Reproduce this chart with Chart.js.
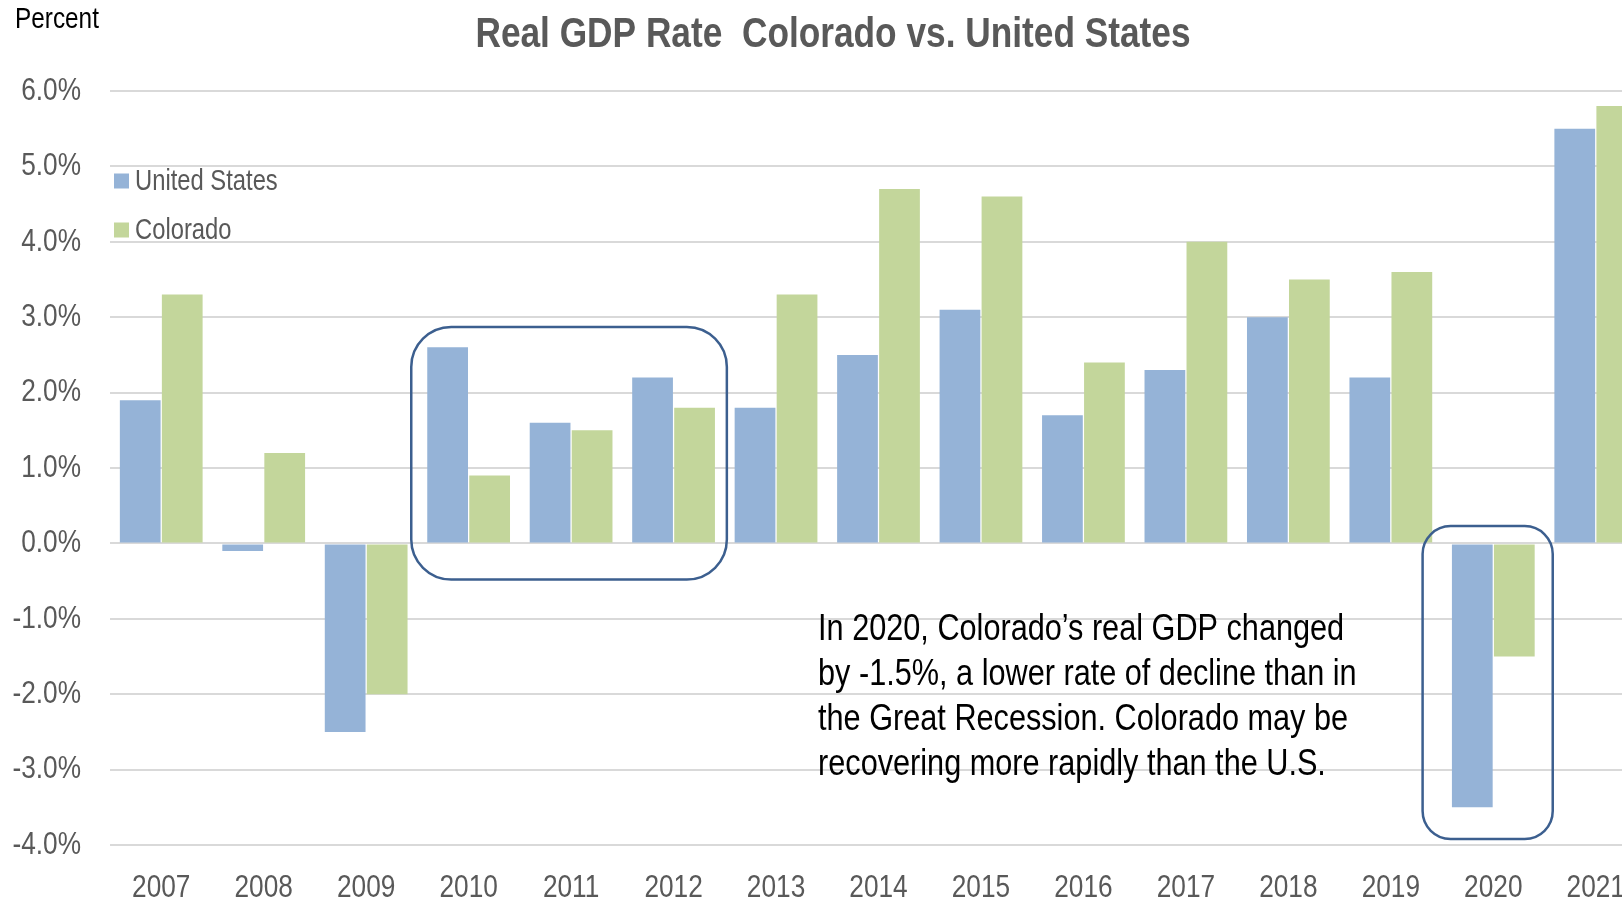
<!DOCTYPE html>
<html>
<head>
<meta charset="utf-8">
<script src="https://cdn.jsdelivr.net/npm/chart.js@4/dist/chart.umd.min.js"></script>
<style>
  html, body { margin: 0; padding: 0; background: #fff; overflow: hidden; }
  #wrap { width: 1660px; height: 899px; }
</style>
</head>
<body>
<div id="wrap"><canvas id="gdp" width="1660" height="899"></canvas></div>
<script>
const years = ["2007", "2008", "2009", "2010", "2011", "2012", "2013", "2014", "2015", "2016", "2017", "2018", "2019", "2020", "2021"];
const usRate = [1.9, -0.1, -2.5, 2.6, 1.6, 2.2, 1.8, 2.5, 3.1, 1.7, 2.3, 3.0, 2.2, -3.5, 5.5];
const coRate = [3.3, 1.2, -2.0, 0.9, 1.5, 1.8, 3.3, 4.7, 4.6, 2.4, 4.0, 3.5, 3.6, -1.5, 5.8];
const seriesNames = ["United States", "Colorado"];
const seriesColors = ["#95b3d7", "#c3d69b"];
const chartTitle = "Real GDP Rate  Colorado vs. United States";

const noteLines = [
  "In 2020, Colorado\u2019s real GDP changed",
  "by -1.5%, a lower rate of decline than in",
  "the Great Recession. Colorado may be",
  "recovering more rapidly than the U.S."
];

// rounded boxes drawn around groups of bars (value units on y)
const highlights = [
  { from: 3, to: 5, top: 2.87, bottom: -0.48, padL: 0.56, padR: 0.52, r: 40 },
  { from: 13, to: 13, top: 0.23, bottom: -3.92, padL: 0.69, padR: 0.58, r: 28 }
];

// no Arial Narrow here, so squeeze Liberation Sans horizontally instead
const FONT = "'Liberation Sans', Arial, sans-serif";
const SQUEEZE = 0.82;
const canvas = document.getElementById("gdp");
const c2d = canvas.getContext("2d");
const rawFill = c2d.fillText.bind(c2d);
const rawMeasure = c2d.measureText.bind(c2d);
c2d.fillText = function (text, x, y) {
  this.save();
  this.translate(x, y);
  this.scale(SQUEEZE, 1);
  rawFill(text, 0, 0);
  this.restore();
};
c2d.measureText = function (text) {
  const m = rawMeasure(text);
  return { width: m.width * SQUEEZE, actualBoundingBoxAscent: m.actualBoundingBoxAscent, actualBoundingBoxDescent: m.actualBoundingBoxDescent };
};

const extras = {
  id: "extras",
  afterDatasetsDraw(chart) {
    const { ctx, chartArea, scales: { x, y } } = chart;
    const catW = (chartArea.right - chartArea.left) / years.length;
    ctx.save();

    // highlight boxes
    ctx.strokeStyle = "#3c5f8f";
    ctx.lineWidth = 2.5;
    highlights.forEach(h => {
      const l = x.getPixelForValue(h.from) - h.padL * catW;
      const r = x.getPixelForValue(h.to) + h.padR * catW;
      const t = y.getPixelForValue(h.top);
      const b = y.getPixelForValue(h.bottom);
      ctx.beginPath();
      ctx.roundRect(l, t, r - l, b - t, h.r);
      ctx.stroke();
    });

    // note text
    ctx.fillStyle = "#000";
    ctx.font = "37.4px " + FONT;
    ctx.textAlign = "left";
    ctx.textBaseline = "middle";
    const nx = x.getPixelForValue(7) - 0.59 * catW;
    const ny = y.getPixelForValue(-1.14);
    noteLines.forEach((s, i) => ctx.fillText(s, nx, ny + i * 45.2));

    // legend inside plot
    ctx.font = "29px " + FONT;
    seriesNames.forEach((n, i) => {
      const cy = chartArea.top + 90 + i * 49;
      ctx.fillStyle = seriesColors[i];
      ctx.fillRect(chartArea.left + 4, cy - 7.5, 15, 15);
      ctx.fillStyle = "#595959";
      ctx.fillText(n, chartArea.left + 25, cy + 1);
    });

    // title and axis unit label
    ctx.fillStyle = "#595959";
    ctx.font = "bold 43px " + FONT;
    ctx.textAlign = "center";
    ctx.fillText(chartTitle, 833, 35);

    ctx.fillStyle = "#000";
    ctx.font = "29.7px " + FONT;
    ctx.textAlign = "left";
    ctx.fillText("Percent", 15, 20);
    ctx.restore();
  }
};

new Chart(canvas, {
  type: "bar",
  data: {
    labels: years,
    datasets: [
      { label: seriesNames[0], data: usRate, backgroundColor: seriesColors[0], categoryPercentage: 0.82, barPercentage: 0.97 },
      { label: seriesNames[1], data: coRate, backgroundColor: seriesColors[1], categoryPercentage: 0.82, barPercentage: 0.97 }
    ]
  },
  options: {
    responsive: false,
    animation: false,
    layout: { padding: { left: 0, right: 13, top: 91, bottom: 0 } },
    plugins: {
      legend: { display: false },
      tooltip: { enabled: false }
    },
    scales: {
      x: {
        grid: { display: false },
        border: { display: false },
        ticks: { color: "#595959", font: { family: FONT, size: 32 }, padding: 16, maxRotation: 0 },
        afterFit: s => { s.height = 54; }
      },
      y: {
        min: -4,
        max: 6,
        grid: { color: "#d9d9d9", lineWidth: 2, drawTicks: false },
        border: { display: false },
        ticks: {
          stepSize: 1,
          color: "#595959",
          font: { family: FONT, size: 32 },
          padding: 29,
          callback: v => v.toFixed(1) + "%"
        },
        afterFit: s => { s.width = 110; }
      }
    }
  },
  plugins: [extras]
});
</script>
</body>
</html>
